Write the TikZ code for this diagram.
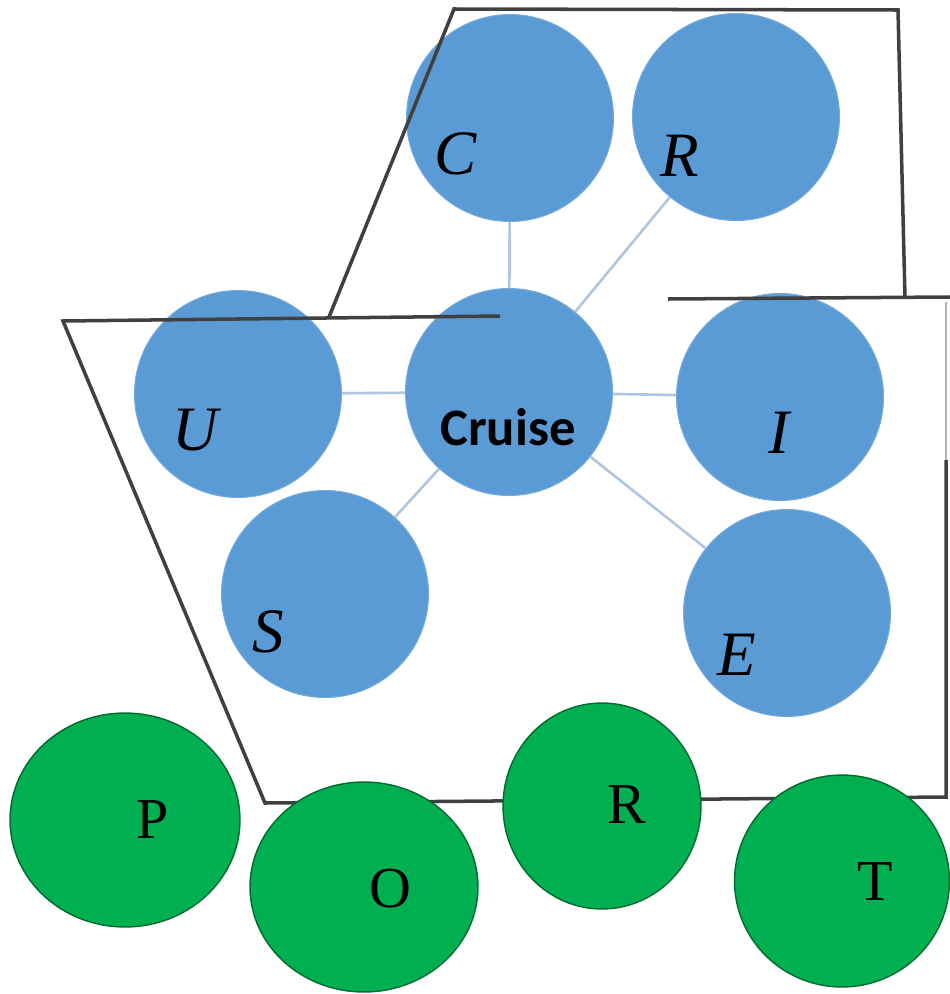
\documentclass[tikz,border=0pt]{standalone}
\usepackage{fontspec}
\setmainfont{Liberation Serif}
\newfontfamily\cruisefont{Carlito}
\usetikzlibrary{shapes.geometric}
\definecolor{blueball}{RGB}{91,155,213}
\definecolor{greenball}{RGB}{0,176,80}
\definecolor{linkgray}{RGB}{176,198,222}
\definecolor{hullgray}{RGB}{64,64,64}

\begin{document}
\begin{tikzpicture}[x=0.02cm, y=-0.02cm,
		bluedot/.style={circle, minimum size=4.14cm, inner sep=0pt, fill=blueball, draw=blueball!85!white, line width=0.6pt},
		greendot/.style={ellipse, inner sep=0pt, fill=greenball, draw=greenball!60!black, line width=0.8pt},
		letter/.style={inner sep=0pt, font=\fontsize{36}{40}\selectfont\itshape},
		portletter/.style={inner sep=0pt, font=\fontsize{33}{37}\selectfont},
		link/.style={line width=1.5pt, color=linkgray},
		hull/.style={line width=2pt, color=hullgray}]
		\useasboundingbox (0,0) rectangle (950,994);
		% blue circles
		\node[bluedot] (cruise) at (509,392) {};
		\node[bluedot] (c) at (510,118) {};
		\node[bluedot] (r) at (736,117) {};
		\node[bluedot] (u) at (238,394) {};
		\node[bluedot] (i) at (780,397) {};
		\node[bluedot] (s) at (325,594) {};
		\node[bluedot] (e) at (787,613) {};
		\foreach \n in {c,r,u,i,s,e}
			\draw[link] (cruise) -- (\n);
		\node[inner sep=0pt, font=\fontsize{30}{34}\selectfont\cruisefont\bfseries] (cruiselabel) at (508,427) {Cruise};
		\node[letter] (clabel) at (456,154) {C};
		\node[letter] (rlabel) at (680,156) {R};
		\node[letter] (ulabel) at (195,430) {U};
		\node[letter] (ilabel) at (779,433) {I};
		\node[letter] (slabel) at (268,632) {S};
		\node[letter] (elabel) at (737,655) {E};
		% ship outline
		\coordinate (deckL) at (63,321);
		\coordinate (deckM) at (500,316);
		\coordinate (bridgeL) at (329,317);
		\coordinate (roofL) at (454,9);
		\coordinate (roofR) at (898,10);
		\coordinate (bridgeR) at (905,298);
		\coordinate (sternT) at (668,299);
		\coordinate (edgeT) at (950,297);
		\coordinate (keelL) at (265,803);
		\coordinate (keelR) at (946,797);
		\coordinate (sternM) at (946,460);
		\coordinate (sternB) at (946,302);
		\draw[line width=1.2pt, color=hullgray!40] (sternB) -- (sternM);
		\draw[hull] (deckM) -- (deckL) -- (keelL) -- (keelR) -- (sternM);
		\draw[hull] (bridgeL) -- (roofL) -- (roofR) -- (bridgeR);
		\draw[hull] (sternT) -- (edgeT);
		% green circles
		\node[greendot, minimum width=4.6cm, minimum height=4.28cm] (p) at (125,820) {};
		\node[greendot, minimum width=4.56cm, minimum height=4.2cm] (o) at (364,887) {};
		\node[greendot, minimum width=3.96cm, minimum height=4.12cm] (r2) at (602,806) {};
		\node[greendot, minimum width=4.3cm, minimum height=4.24cm] (t) at (842,881) {};
		\node[portletter] (plabel) at (153,820) {P};
		\node[portletter] (olabel) at (390,889) {O};
		\node[portletter] (r2label) at (627,805) {R};
		\node[portletter] (tlabel) at (875,882) {T};
	\end{tikzpicture}
\end{document}
